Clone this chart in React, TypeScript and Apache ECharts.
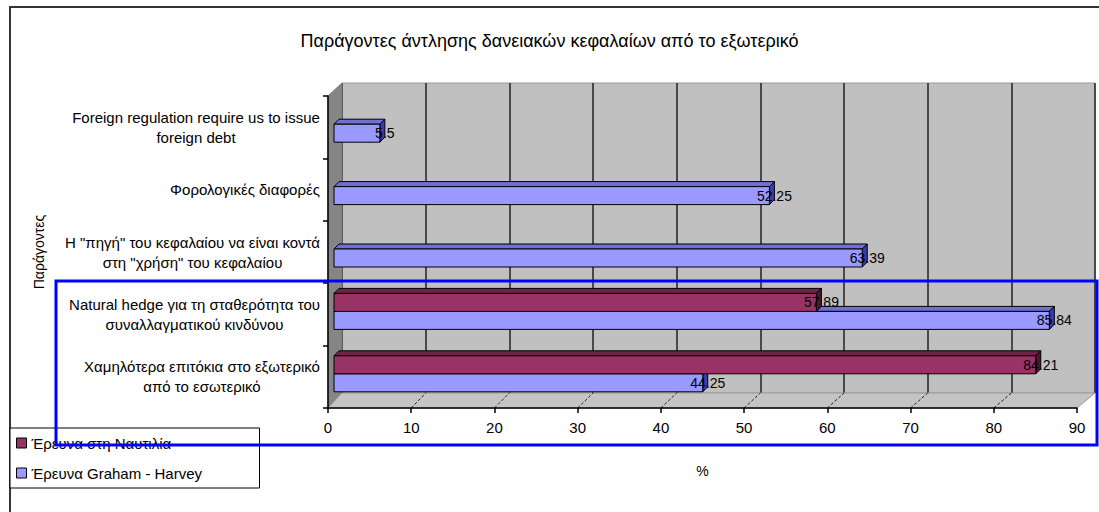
import React, { useEffect, useRef } from "react";
import * as echarts from "echarts";

const titleText = "Παράγοντες άντλησης δανειακών κεφαλαίων από το εξωτερικό";
const categories = [
  "Foreign regulation require us to issue\nforeign debt",
  "Φορολογικές διαφορές",
  "Η \"πηγή\" του κεφαλαίου να είναι κοντά\nστη \"χρήση\" του κεφαλαίου",
  "Natural hedge για τη σταθερότητα του\nσυναλλαγματικού κινδύνου",
  "Χαμηλότερα επιτόκια στο εξωτερικό\nαπό το εσωτερικό",
];
const seriesNames = ["Έρευνα στη Ναυτιλία", "Έρευνα Graham - Harvey"];
const shippingSurvey: (number | null)[] = [null, null, null, 57.89, 84.21];
const grahamHarvey: (number | null)[] = [5.5, 52.25, 63.39, 85.84, 44.25];
const xMin = 0;
const xMax = 90;
const xInterval = 10;
const yAxisName = "Παράγοντες";
const xAxisName = "%";

const FONT = "'Liberation Sans', Arial, sans-serif";
const CAT_FONT = 15;
const FRONT = { left: 328, top: 96, width: 749, height: 312 };
const BACK = { left: 342, top: 83, width: 753, height: 310 };
const BARS = { left: 334, top: 93, width: 750, height: 312 };

const styles = [
  { color: "#993366", top: "#6e2449", side: "#4a1830" },
  { color: "#9999FF", top: "#6f6fd6", side: "#3b3bab" },
];

function makeRender(s: number) {
  return (params: any, api: any) => {
    const val = api.value(0);
    if (val == null || isNaN(val)) return null;
    const ci = api.value(1);
    const p0 = api.coord([0, ci]);
    const p1 = api.coord([val, ci]);
    const h = 18;
    const d = 5;
    const y = s === 0 ? p0[1] - h : p0[1];
    const x0 = p0[0];
    const x1 = p1[0];
    const st = styles[s];
    return {
      type: "group",
      children: [
        {
          type: "polygon",
          shape: { points: [[x0, y], [x0 + d, y - d], [x1 + d, y - d], [x1, y]] },
          style: { fill: st.top, stroke: "#000", lineWidth: 1 },
        },
        {
          type: "polygon",
          shape: { points: [[x1, y], [x1 + d, y - d], [x1 + d, y + h - d], [x1, y + h]] },
          style: { fill: st.side, stroke: "#000", lineWidth: 1 },
        },
        {
          type: "rect",
          shape: { x: x0, y: y, width: x1 - x0, height: h },
          style: { fill: st.color, stroke: "#000", lineWidth: 1 },
        },
        {
          type: "text",
          x: x1 + 5,
          y: y + h / 2,
          style: {
            text: String(val),
            fill: "#000",
            font: `14px ${FONT}`,
            align: "center",
            verticalAlign: "middle",
          },
        },
      ],
    };
  };
}

export default function App() {
  const ref = useRef<HTMLDivElement>(null);
  useEffect(() => {
    document.body.style.margin = "0";
    const chart = echarts.init(ref.current!, null, { renderer: "svg" });
    const toData = (arr: (number | null)[]) => arr.map((v, i) => [v, i]);

    // measure widest line of each category label so lines can be centred within a right-aligned block
    const cnv = document.createElement("canvas");
    const ctx = cnv.getContext("2d")!;
    ctx.font = `${CAT_FONT}px ${FONT}`;
    const rich: Record<string, any> = {};
    categories.forEach((c, i) => {
      const w = Math.max(...c.split("\n").map((l) => ctx.measureText(l).width));
      rich["s" + i] = {
        fontSize: CAT_FONT,
        lineHeight: 20,
        color: "#000",
        fontFamily: FONT,
        padding: [0, Math.round(w), 0, 0],
      };
    });

    chart.setOption({
      animation: false,
      backgroundColor: "#fff",
      textStyle: { fontFamily: FONT },
      title: {
        text: titleText,
        left: "center",
        top: 27,
        textStyle: { fontSize: 18, fontWeight: "normal", color: "#000", fontFamily: FONT },
      },
      legend: {
        orient: "vertical",
        left: 10,
        top: 428,
        padding: [5, 6, 5, 6],
        itemGap: 10,
        itemWidth: 10,
        itemHeight: 10,
        icon: "rect",
        backgroundColor: "#fff",
        borderColor: "#000",
        borderWidth: 1,
        borderRadius: 0,
        itemStyle: { borderColor: "#000", borderWidth: 1 },
        textStyle: { fontSize: 15, color: "#000", fontFamily: FONT, lineHeight: 20, width: 222 },
        data: seriesNames,
        z: 20,
      },
      grid: [
        { ...FRONT, containLabel: false },
        { ...BACK, show: true, backgroundColor: "#C0C0C0", borderColor: "#9a9a9a", borderWidth: 1 },
        { ...BARS },
      ],
      xAxis: [
        {
          type: "value",
          gridIndex: 0,
          min: xMin,
          max: xMax,
          interval: xInterval,
          name: xAxisName,
          nameLocation: "middle",
          nameGap: 56,
          nameTextStyle: { fontSize: 14, color: "#000", fontFamily: FONT },
          axisLine: { show: true, lineStyle: { color: "#000", width: 1.5 } },
          axisTick: { show: true, length: 5, lineStyle: { color: "#000", width: 1.5 } },
          axisLabel: { fontSize: 15, color: "#000", margin: 12, fontFamily: FONT },
          splitLine: { show: false },
          z: 4,
        },
        {
          type: "value",
          gridIndex: 1,
          min: xMin,
          max: xMax,
          interval: xInterval,
          axisLine: { show: false },
          axisTick: { show: false },
          axisLabel: { show: false },
          splitLine: { show: true, lineStyle: { color: "#222", width: 1.5 } },
        },
        {
          type: "value",
          gridIndex: 2,
          min: xMin,
          max: xMax,
          interval: xInterval,
          show: false,
          splitLine: { show: false },
        },
      ],
      yAxis: [
        {
          type: "category",
          gridIndex: 0,
          data: categories,
          inverse: true,
          name: yAxisName,
          nameLocation: "middle",
          nameGap: 282,
          nameTextStyle: { fontSize: 14, color: "#000", fontFamily: FONT },
          axisLine: { show: true, lineStyle: { color: "#000", width: 1.5 } },
          axisTick: { show: true, length: 5, lineStyle: { color: "#000", width: 1.5 } },
          axisLabel: {
            color: "#000",
            margin: 8,
            align: "center",
            fontFamily: FONT,
            formatter: (value: string, index: number) => `{s${index}|${value}}`,
            rich,
          },
          splitLine: { show: false },
          z: 4,
        },
        {
          type: "category",
          gridIndex: 1,
          data: categories,
          inverse: true,
          show: false,
        },
        {
          type: "category",
          gridIndex: 2,
          data: categories,
          inverse: true,
          show: false,
        },
      ],
      series: [
        {
          name: seriesNames[0],
          type: "custom",
          xAxisIndex: 2,
          yAxisIndex: 2,
          renderItem: makeRender(0),
          encode: { x: 0, y: 1 },
          itemStyle: { color: styles[0].color },
          data: toData(shippingSurvey),
          z: 6,
        },
        {
          name: seriesNames[1],
          type: "custom",
          xAxisIndex: 2,
          yAxisIndex: 2,
          renderItem: makeRender(1),
          encode: { x: 0, y: 1 },
          itemStyle: { color: styles[1].color },
          data: toData(grahamHarvey),
          z: 5,
        },
      ],
    });

    const fr = FRONT.left;
    const fb = FRONT.top + FRONT.height;
    const ft = FRONT.top;
    const frt = FRONT.left + FRONT.width;
    const bl = BACK.left;
    const bt = BACK.top;
    const bb = BACK.top + BACK.height;
    const brt = BACK.left + BACK.width;

    const floorLines: any[] = [];
    for (let v = xMin + xInterval; v < xMax; v += xInterval) {
      const xf = chart.convertToPixel({ xAxisIndex: 0 }, v) as number;
      const xb = chart.convertToPixel({ xAxisIndex: 1 }, v) as number;
      floorLines.push({
        type: "line",
        z: 2,
        shape: { x1: xf, y1: fb, x2: xb, y2: bb },
        style: { stroke: "#222", lineWidth: 1, lineDash: [3, 2] },
      });
    }

    chart.setOption({
      graphic: [
        {
          type: "rect",
          z: 0,
          shape: { x: 10, y: 7, width: 1200, height: 600 },
          style: { fill: "none", stroke: "#333", lineWidth: 2 },
        },
        {
          type: "polygon",
          z: 1,
          shape: { points: [[fr, ft], [bl, bt], [bl, bb], [fr, fb]] },
          style: { fill: "#858585", stroke: "#777", lineWidth: 1 },
        },
        {
          type: "polygon",
          z: 1,
          shape: { points: [[fr, fb], [bl, bb], [brt, bb], [frt, fb]] },
          style: { fill: "#C4C4C4", stroke: "#9a9a9a", lineWidth: 1 },
        },
        ...floorLines,
        {
          type: "rect",
          z: 100,
          shape: { x: 56, y: 281, width: 1041, height: 164 },
          style: { fill: "none", stroke: "#0000FF", lineWidth: 3 },
        },
      ],
    });

    return () => chart.dispose();
  }, []);
  return <div ref={ref} style={{ width: 1099, height: 512 }} />;
}
